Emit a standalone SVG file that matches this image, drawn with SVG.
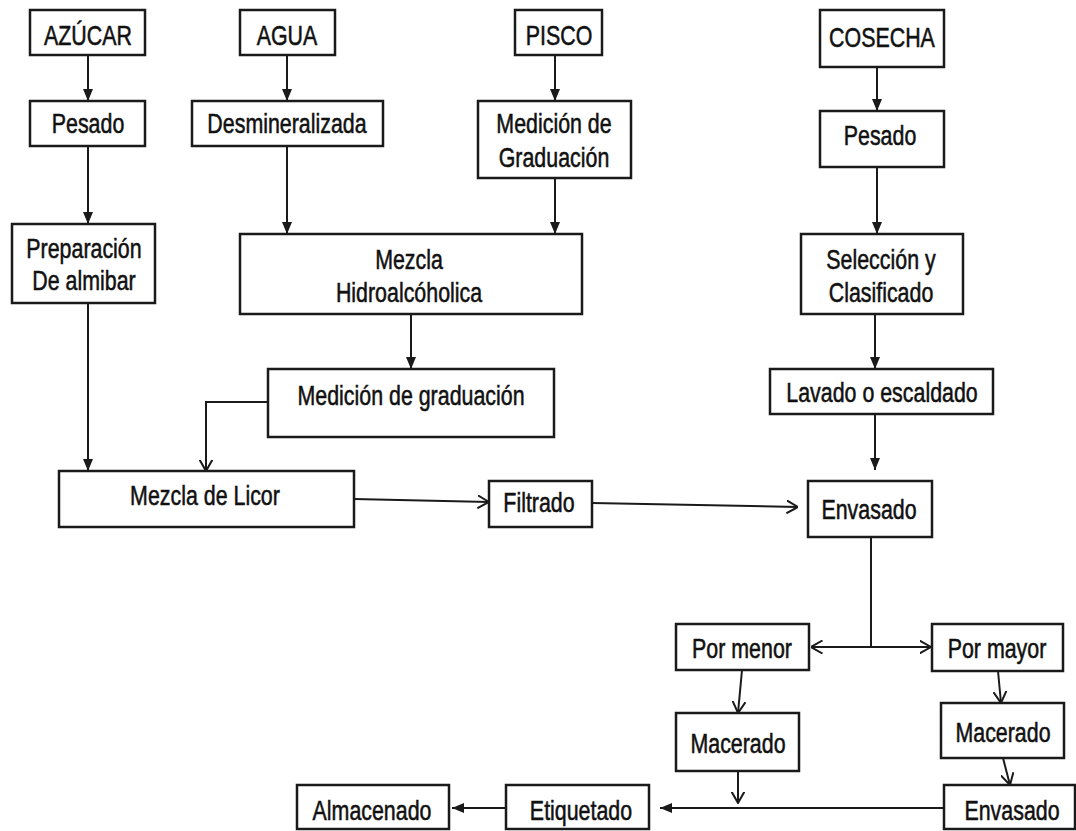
<svg xmlns="http://www.w3.org/2000/svg" width="1076" height="831" viewBox="0 0 1076 831">
<style>
.b{fill:#fff;stroke:#1a1a1a;stroke-width:2.5}
.t{font-family:"Liberation Sans",Arial,sans-serif;font-size:23px;fill:#111;stroke:#111;stroke-width:0.45;text-anchor:middle}
.c{fill:none;stroke:#1a1a1a;stroke-width:2}
.f{marker-end:url(#af)}
.o{marker-end:url(#ao)}
</style>
<defs>
<marker id="af" markerUnits="userSpaceOnUse" viewBox="0 0 12 10" markerWidth="12" markerHeight="10" refX="12" refY="5" orient="auto"><path d="M0,0 L12,5 L0,10 z" fill="#1a1a1a"/></marker>
<marker id="ao" markerUnits="userSpaceOnUse" viewBox="0 0 12 14" markerWidth="12" markerHeight="14" refX="11.5" refY="7" orient="auto"><path d="M0,0.5 L11.5,7 L0,13.5" fill="none" stroke="#1a1a1a" stroke-width="2"/></marker>
</defs>
<rect width="1076" height="831" fill="#fff"/>
<g id="connectors">
<path class="c f" d="M88,55 V101"/>
<path class="c f" d="M88,146 V224"/>
<path class="c f" d="M88,303 V471"/>
<path class="c f" d="M287,55 V101"/>
<path class="c f" d="M287,146 V234"/>
<path class="c f" d="M555,55 V101"/>
<path class="c f" d="M555,178 V234"/>
<path class="c f" d="M411,314 V369"/>
<path class="c o" d="M268,402 H206 V471"/>
<path class="c o" d="M354,499 L489,502"/>
<path class="c o" d="M592,503 L798,507"/>
<path class="c f" d="M877,67 V111"/>
<path class="c f" d="M877,167 V234"/>
<path class="c f" d="M875,314 V369"/>
<path class="c f" d="M875,414 V470"/>
<path class="c" d="M871,537 V647"/>
<path class="c o" d="M871,647 H811"/>
<path class="c o" d="M871,647 H931"/>
<path class="c o" d="M742,670 L738,713"/>
<path class="c o" d="M998,671 L1001,703"/>
<path class="c o" d="M1003,758 L1010,785"/>
<path class="c o" d="M738,771 V803"/>
<path class="c f" d="M944,808 H660"/>
<path class="c f" d="M506,808 H452"/>
</g>
<g id="n-azucar"><rect class="b" x="30" y="10" width="115" height="45"/><text class="t" transform="translate(88,45) scale(0.93,1.2)">AZÚCAR</text></g>
<g id="n-agua"><rect class="b" x="240" y="10" width="95" height="45"/><text class="t" transform="translate(287,45) scale(0.93,1.2)">AGUA</text></g>
<g id="n-pisco"><rect class="b" x="515" y="10" width="87" height="45"/><text class="t" transform="translate(559,45) scale(0.93,1.2)">PISCO</text></g>
<g id="n-cosecha"><rect class="b" x="820" y="10" width="124" height="57"/><text class="t" transform="translate(882,47) scale(0.93,1.2)">COSECHA</text></g>
<g id="n-pesado1"><rect class="b" x="30" y="101" width="115" height="45"/><text class="t" transform="translate(88,133) scale(0.93,1.2)">Pesado</text></g>
<g id="n-desmin"><rect class="b" x="192" y="101" width="191" height="45"/><text class="t" transform="translate(287,133) scale(0.93,1.2)">Desmineralizada</text></g>
<g id="n-medicion1"><rect class="b" x="478" y="101" width="153" height="77"/><text class="t" transform="translate(554,133) scale(0.93,1.2)">Medición de</text><text class="t" transform="translate(554,167) scale(0.93,1.2)">Graduación</text></g>
<g id="n-pesado2"><rect class="b" x="820" y="111" width="124" height="56"/><text class="t" transform="translate(880,145) scale(0.93,1.2)">Pesado</text></g>
<g id="n-preparacion"><rect class="b" x="12" y="224" width="143" height="79"/><text class="t" transform="translate(84,258) scale(0.93,1.2)">Preparación</text><text class="t" transform="translate(84,290) scale(0.93,1.2)">De almibar</text></g>
<g id="n-mezclah"><rect class="b" x="240" y="234" width="342" height="80"/><text class="t" transform="translate(409,269) scale(0.93,1.2)">Mezcla</text><text class="t" transform="translate(409,302) scale(0.93,1.2)">Hidroalcóholica</text></g>
<g id="n-seleccion"><rect class="b" x="801" y="234" width="162" height="80"/><text class="t" transform="translate(881,269) scale(0.93,1.2)">Selección y</text><text class="t" transform="translate(881,302) scale(0.93,1.2)">Clasificado</text></g>
<g id="n-medicion2"><rect class="b" x="268" y="369" width="286" height="68"/><text class="t" transform="translate(411,405) scale(0.93,1.2)">Medición de graduación</text></g>
<g id="n-lavado"><rect class="b" x="770" y="369" width="223" height="45"/><text class="t" transform="translate(882,402) scale(0.93,1.2)">Lavado o escaldado</text></g>
<g id="n-mezclalicor"><rect class="b" x="59" y="471" width="295" height="56"/><text class="t" transform="translate(205,505) scale(0.93,1.2)">Mezcla de Licor</text></g>
<g id="n-filtrado"><rect class="b" x="489" y="481" width="103" height="46"/><text class="t" transform="translate(539,512) scale(0.93,1.2)">Filtrado</text></g>
<g id="n-envasado1"><rect class="b" x="808" y="481" width="124" height="56"/><text class="t" transform="translate(869,519) scale(0.93,1.2)">Envasado</text></g>
<g id="n-pormenor"><rect class="b" x="676" y="624" width="133" height="46"/><text class="t" transform="translate(742,658) scale(0.93,1.2)">Por menor</text></g>
<g id="n-pormayor"><rect class="b" x="932" y="624" width="131" height="47"/><text class="t" transform="translate(997,658) scale(0.93,1.2)">Por mayor</text></g>
<g id="n-macerado1"><rect class="b" x="676" y="713" width="123" height="58"/><text class="t" transform="translate(738,753) scale(0.93,1.2)">Macerado</text></g>
<g id="n-macerado2"><rect class="b" x="941" y="703" width="123" height="55"/><text class="t" transform="translate(1003,742) scale(0.93,1.2)">Macerado</text></g>
<g id="n-envasado2"><rect class="b" x="944" y="785" width="131" height="44"/><text class="t" transform="translate(1012,820) scale(0.93,1.2)">Envasado</text></g>
<g id="n-etiquetado"><rect class="b" x="506" y="785" width="143" height="44"/><text class="t" transform="translate(581,820) scale(0.93,1.2)">Etiquetado</text></g>
<g id="n-almacenado"><rect class="b" x="297" y="785" width="152" height="44"/><text class="t" transform="translate(372,820) scale(0.93,1.2)">Almacenado</text></g>
</svg>
